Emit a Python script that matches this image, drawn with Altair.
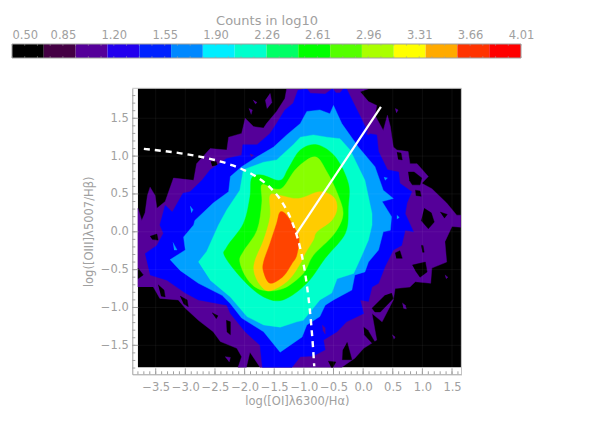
import altair as alt
import pandas as pd

# ---- colour bar ----
bar_edges = [0.5, 0.719, 0.939, 1.158, 1.378, 1.597, 1.816, 2.036, 2.255, 2.474, 2.694, 2.913, 3.133, 3.352, 3.571, 3.791, 4.01]
bar_colors = ["#000000", "#440044", "#550099", "#2200ee", "#0022ff", "#0088ff", "#00eeff", "#00ffcc",
              "#00ff66", "#00ff00", "#55ff00", "#aaff00", "#ffff00", "#ffaa00", "#ff3300", "#ff0000"]
bar_labels = [0.50, 0.851, 1.202, 1.553, 1.904, 2.256, 2.606, 2.957, 3.308, 3.659, 4.01]
bar_minor = [round(0.5 + i * 0.08775, 4) for i in range(41)]

# ---- frame and ticks ----
x_dom = [-3.895, 1.66]
y_dom = [-1.883, 1.896]
img_x = [-3.80, 1.65]
img_y = [-1.79, 1.896]
x_major = [-3.5, -3.0, -2.5, -2.0, -1.5, -1.0, -0.5, 0.0, 0.5, 1.0, 1.5]
y_major = [-1.5, -1.0, -0.5, 0.0, 0.5, 1.0, 1.5]
x_minor = [round(-3.8 + i * 0.1, 1) for i in range(55)]
y_minor = [round(-1.8 + i * 0.1, 1) for i in range(37)]

# ---- diagnostic lines ----
curve_x = [-3.7, -3.4, -3.1, -2.8, -2.5, -2.2, -2.0, -1.8, -1.6, -1.4, -1.2, -1.1, -1.0, -0.95, -0.9, -0.85, -0.825]
curve_y = [1.095, 1.07, 1.04, 1.0, 0.948, 0.877, 0.812, 0.727, 0.607, 0.429, 0.133, -0.10, -0.45, -0.70, -1.025, -1.48, -1.776]
line_x = [-1.13, 0.30]
line_y = [-0.03, 1.65]

# ---- filled contour outlines ----
purple_x = [-3.80,-3.80,-3.735,-3.68,-3.64,-3.595,-3.51,-3.48,-3.34,-3.20,-2.86,-2.81,-2.58,-2.30,-2.27,-2.05,-1.99,-1.85,-1.68,-1.63,-1.46,-1.32,-1.29,0.09,-0.05,0.09,0.23,0.20,0.34,0.41,0.46,0.51,0.57,0.76,0.79,0.91,1.10,0.99,1.16,1.41,1.58,1.65,1.65,1.50,1.38,1.41,1.16,1.14,0.88,0.79,0.54,0.51,0.32,0.15,0.23,0.01,-0.14,-0.36,-1.74,-1.91,-1.97,-2.11,-2.05,-2.13,-2.41,-2.53,-2.78,-3.00,-3.12,-3.43,-3.54]
purple_y = [-0.73,0.31,0.15,0.25,0.48,0.59,0.48,0.31,0.40,0.71,0.68,0.90,1.10,1.08,1.25,1.30,1.50,1.39,1.37,1.43,1.59,1.76,1.89,1.89,1.85,1.72,1.67,1.54,1.34,1.54,1.39,1.12,1.08,1.06,0.90,0.90,0.73,0.64,0.57,0.38,0.22,0.22,0.06,0.07,-0.13,-0.40,-0.48,-0.68,-0.66,-0.73,-0.75,-0.90,-1.19,-1.08,-1.43,-1.54,-1.67,-1.79,-1.79,-1.59,-1.79,-1.79,-1.65,-1.54,-1.45,-1.32,-1.17,-1.01,-0.90,-0.88,-0.73]
blue_x = [-3.68,-3.48,-3.37,-3.43,-3.34,-3.22,-3.04,-2.92,-2.72,-2.58,-2.30,-2.05,-2.03,-1.79,-1.57,-1.46,-1.32,-1.18,-1.10,-0.95,-0.89,-0.64,-0.52,-0.28,-0.16,-0.02,0.09,0.23,0.26,0.41,0.60,0.62,0.82,0.74,0.71,0.85,0.71,0.65,0.51,0.37,0.26,0.15,0.09,-0.05,0.01,-0.28,-0.44,-0.67,-0.64,-0.84,-1.06,-1.20,-1.70,-1.74,-1.99,-2.24,-2.30,-2.78,-3.00,-3.31,-3.595]
blue_y = [-0.29,-0.18,-0.02,0.09,0.35,0.26,0.51,0.53,0.68,0.82,0.97,1.01,1.15,1.15,1.30,1.43,1.61,1.70,1.87,1.89,1.83,1.82,1.89,1.89,1.70,1.48,1.30,1.28,1.06,0.82,0.79,0.64,0.53,0.38,0.24,0.0,0.02,-0.18,-0.24,-0.46,-0.68,-0.73,-0.92,-0.90,-1.08,-1.19,-1.32,-1.43,-1.56,-1.64,-1.65,-1.79,-1.79,-1.50,-1.32,-1.08,-0.97,-0.90,-0.81,-0.64,-0.57]
azure_x = [-3.26,-3.00,-3.03,-2.86,-2.84,-2.53,-2.27,-2.24,-2.05,-1.79,-1.51,-1.29,-1.06,-0.95,-0.73,-0.56,-0.50,-0.36,-0.08,0.20,0.34,0.51,0.32,0.48,0.46,0.34,0.26,0.09,0.03,-0.14,-0.19,-0.50,-0.64,-0.73,-0.95,-1.03,-1.40,-1.68,-2.05,-2.24,-2.38,-2.78,-3.09]
azure_y = [-0.37,-0.24,-0.07,0.09,0.15,0.38,0.53,0.73,0.86,0.99,1.12,1.28,1.43,1.59,1.61,1.56,1.67,1.43,1.12,0.86,0.55,0.44,0.40,0.20,0.02,0.0,-0.24,-0.40,-0.53,-0.57,-0.77,-0.90,-0.97,-1.12,-1.23,-1.39,-1.59,-1.32,-1.14,-0.95,-0.84,-0.68,-0.51]
aqua_x = [-2.78,-2.64,-2.44,-2.30,-2.08,-2.02,-1.68,-1.46,-1.18,-1.06,-0.84,-0.61,-0.39,-0.22,0.03,0.15,0.15,0.09,-0.02,-0.16,-0.44,-0.53,-0.73,-1.01,-1.12,-1.40,-1.68,-1.96,-2.24,-2.58]
aqua_y = [-0.40,-0.26,0.09,0.29,0.55,0.82,0.92,0.95,1.15,1.25,1.28,1.25,1.23,1.08,0.68,0.24,0.09,-0.11,-0.31,-0.55,-0.62,-0.81,-0.90,-1.17,-1.19,-1.26,-1.23,-1.12,-0.86,-0.64]
green_x = [-1.88,-1.71,-1.40,-1.26,-1.06,-0.78,-0.47,-0.25,-0.25,-0.30,-0.64,-0.95,-1.35,-1.68,-2.02,-2.33,-2.30,-2.02,-1.91]
green_y = [0.71,0.75,0.68,0.84,1.08,1.15,0.99,0.64,0.33,-0.02,-0.35,-0.68,-0.90,-0.86,-0.64,-0.33,-0.20,0.11,0.46]
lime_x = [-1.71,-1.51,-1.35,-1.12,-0.81,-0.61,-0.42,-0.34,-0.50,-0.84,-1.01,-1.35,-1.71,-1.94,-2.08,-2.02,-1.79,-1.71]
lime_y = [0.62,0.57,0.59,0.84,0.99,0.79,0.48,0.22,-0.04,-0.31,-0.55,-0.75,-0.77,-0.64,-0.40,-0.26,0.02,0.38]
amber_x = [-1.57,-1.40,-1.09,-0.73,-0.50,-0.44,-0.53,-0.78,-0.84,-0.98,-1.06,-1.26,-1.57,-1.74,-1.84,-1.82,-1.68,-1.57]
amber_y = [0.48,0.48,0.44,0.53,0.46,0.31,0.15,0.0,-0.11,-0.29,-0.42,-0.64,-0.78,-0.70,-0.53,-0.37,-0.11,0.20]
red_x = [-1.40,-1.29,-1.15,-1.08,-1.12,-1.20,-1.35,-1.57,-1.68,-1.68,-1.57,-1.46]
red_y = [0.26,0.22,0.04,-0.09,-0.31,-0.42,-0.59,-0.68,-0.53,-0.40,-0.15,0.11]

# black gaps inside the purple level: (x list, y list)
holes = [
    ([-2.57,-2.48,-2.46,-2.55], [0.93,0.93,0.88,0.87]),
    ([0.76,0.86,0.99,0.96,0.83,0.78], [0.79,0.79,0.71,0.62,0.62,0.68]),
    ([0.57,0.64,0.66,0.59], [1.05,1.04,0.95,0.96]),
    ([0.88,0.96,0.98,0.89], [0.55,0.54,0.47,0.48]),
    ([1.03,1.15,1.20,1.10,0.98], [0.31,0.25,0.13,0.04,0.15]),
    ([1.30,1.42,1.37], [0.26,0.23,0.18]),
    ([0.54,0.62,0.66,0.56], [-0.28,-0.25,-0.35,-0.35]),
    ([0.83,1.05,1.08,0.96,0.88], [-0.44,-0.40,-0.53,-0.60,-0.51]),
    ([0.98,1.01,1.03,1.0], [-0.18,-0.18,-0.27,-0.27]),
    ([0.48,0.51,0.29,0.20,0.15,0.37], [-0.81,-0.88,-1.06,-1.06,-1.01,-0.84]),
    ([0.01,0.08,0.20,0.15,0.02], [-1.26,-1.30,-1.46,-1.47,-1.36]),
    ([-0.27,-0.19,-0.35,-0.34], [-1.46,-1.69,-1.69,-1.56]),
    ([-0.59,-0.46,-0.51,-0.54], [-1.71,-1.72,-1.79,-1.79]),
    ([-3.595,-3.48,-3.46,-3.56], [-0.06,-0.03,-0.11,-0.10]),
    ([-3.8,-3.71,-3.8], [-0.48,-0.57,-0.62]),
    ([-2.55,-2.45,-2.48], [-1.07,-1.11,-1.15]),
    ([-2.31,-2.24,-2.24,-2.30], [-1.17,-1.19,-1.36,-1.32]),
    ([-3.46,-3.36,-3.34,-3.41], [-0.70,-0.77,-0.86,-0.85]),
    ([-3.09,-2.97,-2.95,-3.03], [-0.85,-0.90,-0.99,-0.95]),
]
# small purple spots on black
islands = [
    ([-1.57,-1.54,-1.62,-1.65], [1.83,1.71,1.63,1.74]),
    ([-1.86,-1.79,-1.82], [1.74,1.71,1.69]),
    ([-1.93,-1.87,-1.89], [1.63,1.61,1.55]),
    ([0.66,0.71,0.73,0.68], [-0.94,-0.97,-1.02,-1.01]),
    ([0.49,0.54,0.52], [-1.36,-1.39,-1.42]),
    ([0.54,0.59,0.56], [1.63,1.61,1.57]),
    ([-2.33,-2.24,-2.26], [-1.65,-1.66,-1.72]),
    ([1.38,1.43,1.40], [-0.57,-0.60,-0.62]),
]
# small purple spots on blue
blue_spots = [
    ([-0.51,-0.34,-0.39,-0.46], [1.89,1.89,1.84,1.84]),
    ([0.05,0.12,0.08], [1.32,1.30,1.28]),
    ([-1.91,-1.85,-1.89], [1.03,1.01,0.99]),
    ([-0.69,-0.64,-0.64,-0.68], [-1.23,-1.27,-1.35,-1.30]),
]
# small azure spots on blue
azure_spots = [
    ([-2.92,-2.87,-2.90], [0.34,0.29,0.25]),
    ([0.35,0.41,0.37], [0.72,0.71,0.68]),
    ([0.57,0.61,0.57], [0.22,0.19,0.17]),
    ([-3.21,-3.14,-3.19], [-0.14,-0.24,-0.24]),
]

C_PURPLE, C_BLUE, C_AZURE, C_AQUA = "#550099", "#0000ff", "#00a0ff", "#00ffcc"
C_GREEN, C_LIME, C_AMBER, C_RED = "#00ff00", "#88ff00", "#ffcc00", "#ff4400"
GRAY = "#a0a0a0"
FONT = "DejaVu Sans"

W, H = 582, 425
XS = alt.Scale(domain=x_dom, range=[124.3, 453.5], nice=False, zero=False)
YS = alt.Scale(domain=y_dom, range=[366.3, 80.3], nice=False, zero=False)
axis_x = alt.Axis(orient="bottom", offset=366.3 - H, values=x_major, format=".1f", title="log([OI]λ6300/Hα)",
                  ticks=False, grid=False, domainColor=GRAY, labelColor=GRAY, titleColor=GRAY,
                  labelFont=FONT, titleFont=FONT, labelFontSize=11.5, titleFontSize=11.5, titleFontWeight="normal",
                  labelPadding=7, titlePadding=3, labelFlush=False, labelOverlap=False)
axis_y = alt.Axis(orient="left", offset=-124.3, values=y_major, format=".1f", title="log([OIII]λ5007/Hβ)",
                  ticks=False, grid=False, domainColor=GRAY, labelColor=GRAY, titleColor=GRAY,
                  labelFont=FONT, titleFont=FONT, labelFontSize=11.5, titleFontSize=11.5, titleFontWeight="normal",
                  labelPadding=4, titlePadding=6, labelFlush=False, labelOverlap=False)
X = alt.X("x:Q", scale=XS, axis=axis_x)
Y = alt.Y("y:Q", scale=YS, axis=axis_y)
X2 = alt.X2("x2:Q")
Y2 = alt.Y2("y2:Q")


def poly(xs, ys, color, interp="linear"):
    df = pd.DataFrame({"x": xs, "y": ys, "i": list(range(len(xs)))})
    return alt.Chart(df).mark_line(fill=color, stroke=color, strokeWidth=0.4, interpolate=interp).encode(
        x=X, y=Y, order="i:Q")


base_df = pd.DataFrame({"x": [img_x[0]], "x2": [img_x[1]], "y": [img_y[0]], "y2": [img_y[1]]})
image = alt.Chart(base_df).mark_rect(color="#000000").encode(x=X, x2=X2, y=Y, y2=Y2)

main_layers = [image, poly(purple_x, purple_y, C_PURPLE)]
main_layers += [poly(a, b, "#000000") for a, b in holes]
main_layers += [poly(a, b, C_PURPLE) for a, b in islands]
main_layers += [poly(blue_x, blue_y, C_BLUE)]
main_layers += [poly(a, b, C_PURPLE) for a, b in blue_spots]
main_layers += [poly(a, b, C_AZURE) for a, b in azure_spots]
main_layers += [poly(azure_x, azure_y, C_AZURE), poly(aqua_x, aqua_y, C_AQUA)]
main_layers += [poly(green_x, green_y, C_GREEN, "cardinal-closed"),
                poly(lime_x, lime_y, C_LIME, "cardinal-closed"),
                poly(amber_x, amber_y, C_AMBER, "cardinal-closed"),
                poly(red_x, red_y, C_RED, "cardinal-closed")]


def vrules(values, y0, y1, color, opacity=1.0):
    df = pd.DataFrame({"x": values, "y": [y0] * len(values), "y2": [y1] * len(values)})
    return alt.Chart(df).mark_rule(color=color, opacity=opacity, strokeWidth=1).encode(x=X, y=Y, y2=Y2)


def hrules(values, x0, x1, color, opacity=1.0):
    df = pd.DataFrame({"y": values, "x": [x0] * len(values), "x2": [x1] * len(values)})
    return alt.Chart(df).mark_rule(color=color, opacity=opacity, strokeWidth=1).encode(y=Y, x=X, x2=X2)


curve = alt.Chart(pd.DataFrame({"x": curve_x, "y": curve_y, "i": list(range(len(curve_x)))})).mark_line(
    color="#ffffff", strokeWidth=2.4, strokeDash=[6, 5], interpolate="monotone").encode(x=X, y=Y, order="i:Q")
sline = alt.Chart(pd.DataFrame({"x": line_x, "y": line_y})).mark_line(color="#ffffff", strokeWidth=2.2).encode(x=X, y=Y)

main_layers += [
    vrules(x_major, img_y[0], img_y[1], "#ffffff", 0.05),
    hrules(y_major, img_x[0], img_x[1], "#ffffff", 0.05),
    vrules(x_minor, y_dom[0], y_dom[0] + 3 / 75.7, GRAY),
    vrules(x_major, y_dom[0], y_dom[0] + 6 / 75.7, GRAY),
    hrules(y_minor, x_dom[0], x_dom[0] + 3 / 59.25, GRAY),
    hrules(y_major, x_dom[0], x_dom[0] + 6 / 59.25, GRAY),
    hrules([y_dom[1]], x_dom[0], x_dom[1], "#c4c4c4"),
    vrules([x_dom[1]], y_dom[0], y_dom[1], "#c4c4c4"),
    curve, sline]
main = alt.layer(*main_layers)

# ---- colour bar layers ----
BXS = alt.Scale(domain=[bar_edges[0], bar_edges[-1]], range=[4, 513], nice=False, zero=False)
BYS = alt.Scale(domain=[0, 1], range=[50, 36], nice=False, zero=False)
bar_df = pd.DataFrame({"x": bar_edges[:-1], "x2": bar_edges[1:], "y": [0] * 16, "y2": [1] * 16, "c": bar_colors})
bar_axis = alt.Axis(orient="top", offset=-36, values=bar_labels, format=".2f", title="Counts in log10",
                    ticks=False, domain=False, grid=False, labelColor=GRAY, titleColor=GRAY, labelFont=FONT,
                    titleFont=FONT, labelFontSize=11.5, titleFontSize=13, titleFontWeight="normal",
                    labelAlign={"condition": {"test": "datum.value < 0.6", "value": "left"}, "value": "center"},
                    labelPadding=4, titlePadding=2, labelFlush=False, labelOverlap=False)
BX = alt.X("x:Q", scale=BXS, axis=bar_axis)
BY = alt.Y("y:Q", scale=BYS, axis=None)
bar_rect = alt.Chart(bar_df).mark_rect().encode(x=BX, x2=X2, y=BY, y2=Y2,
                                                color=alt.Color("c:N", scale=None, legend=None))
n_t = len(bar_minor)
bar_t1 = alt.Chart(pd.DataFrame({"x": bar_minor, "y": [0.0] * n_t, "y2": [0.14] * n_t})).mark_rule(
    color=GRAY, strokeWidth=0.8, opacity=0.6).encode(x=BX, y=BY, y2=Y2)
bar_t2 = alt.Chart(pd.DataFrame({"x": bar_minor, "y": [0.86] * n_t, "y2": [1.0] * n_t})).mark_rule(
    color=GRAY, strokeWidth=0.8, opacity=0.6).encode(x=BX, y=BY, y2=Y2)
bar_box = alt.Chart(pd.DataFrame({"x": [bar_edges[0]], "x2": [bar_edges[-1]], "y": [0], "y2": [1]})).mark_rect(
    fillOpacity=0, stroke=GRAY, strokeWidth=1).encode(x=BX, x2=X2, y=BY, y2=Y2)
bar = alt.layer(bar_rect, bar_t1, bar_t2, bar_box)

chart = alt.layer(main, bar).resolve_scale(x="independent", y="independent").resolve_axis(
    x="independent", y="independent").properties(
    width=W, height=H, padding=0, autosize=alt.AutoSizeParams(type="none"), background="#ffffff"
).configure_view(stroke=None)

chart.save("out.html", embed_options={"renderer": "svg", "actions": False})
